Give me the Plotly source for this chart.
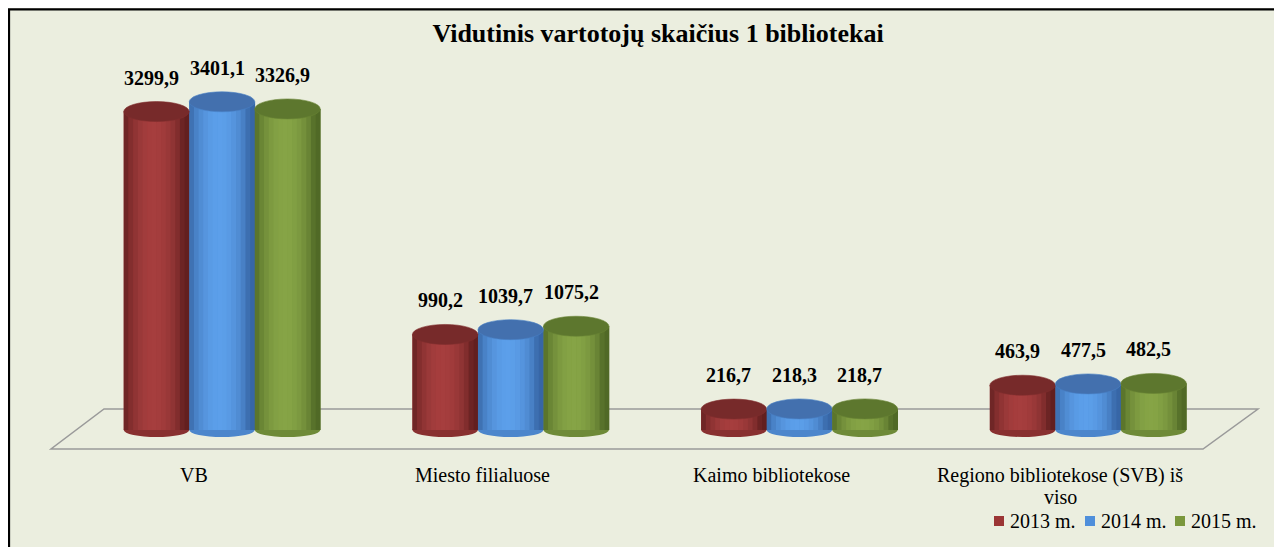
import math
import plotly.graph_objects as go

categories = ["VB", "Miesto filialuose", "Kaimo bibliotekose", "Regiono bibliotekose (SVB) iš<br>viso"]
series_names = ["2013 m.", "2014 m.", "2015 m."]
v2013 = [3299.9, 990.2, 216.7, 463.9]
v2014 = [3401.1, 1039.7, 218.3, 477.5]
v2015 = [3326.9, 1075.2, 218.7, 482.5]
title_text = "Vidutinis vartotojų skaičius 1 bibliotekai"

W, H = 1282, 547
OFF = 8  # page body margin
BG = "#EBEEDF"
FONT = "Liberation Serif"

# colour styles per series: (legend/mid, dark edge, light centre, top cap)
styles = [
    ("#9B3535", "#5A1C1C", "#A63E3E", "#772A2A"),
    ("#4F8FDB", "#33609E", "#5C9FEA", "#4370AE"),
    ("#7A973C", "#4A6222", "#86A446", "#5D772E"),
]
series = [v2013, v2014, v2015]

x = list(range(len(categories)))
bar_w = 0.2269
offsets = [-1.5 * bar_w, -0.5 * bar_w, 0.5 * bar_w]


def PX(px):
    return (px - OFF) / W


def PY(py):
    return 1 - (py - OFF) / H


# pixel -> data scale (page pixels)
px_per_unit_y = 0.0965
y0_px = 430.0 - OFF
y_top = y0_px / px_per_unit_y
y_bot = -(H - y0_px) / px_per_unit_y
px_per_unit_x = 288.7
x_left = -(222.0 - OFF) / px_per_unit_x
x_right = x_left + W / px_per_unit_x

cap_r = 10 / px_per_unit_y
base_r = 7 / px_per_unit_y


def hex2rgb(h):
    h = h.lstrip("#")
    return tuple(int(h[i:i + 2], 16) for i in (0, 2, 4))


def mix(c1, c2, t):
    a, b = hex2rgb(c1), hex2rgb(c2)
    return "rgb(%d,%d,%d)" % tuple(round(a[i] + (b[i] - a[i]) * t) for i in range(3))


fig = go.Figure()

# main bars (one per series)
for s, (vals, name, off) in enumerate(zip(series, series_names, offsets)):
    fig.add_trace(go.Bar(x=x, y=vals, name=name, width=bar_w, offset=off,
                         marker=dict(color=styles[s][0], line=dict(width=0)),
                         hoverinfo="skip", showlegend=False))

# cylinder shading strips
N = 14
for s, (vals, off) in enumerate(zip(series, offsets)):
    mid, dark, light, cap = styles[s]
    for i in range(N):
        t = (i + 0.5) / N
        f = math.sin(math.pi * min(1.0, t / 0.92)) ** 0.6 if t < 0.92 else 0.1
        col = mix(dark, light, max(0.0, min(1.0, f)))
        fig.add_trace(go.Bar(x=x, y=vals, width=bar_w / N * 1.08, offset=off + i * bar_w / N,
                             marker=dict(color=col, line=dict(width=0)),
                             showlegend=False, hoverinfo="skip"))

shapes = []
# floor (parallelogram)
floor = [(PX(104), PY(409)), (PX(1258), PY(409)), (PX(1203), PY(449)), (PX(51), PY(449))]
path = "M %f,%f L %f,%f L %f,%f L %f,%f Z" % tuple(c for pt in floor for c in pt)
shapes.append(dict(type="path", xref="paper", yref="paper", path=path,
                   line=dict(color="#9A9A9A", width=1.5), fillcolor="rgba(0,0,0,0)", layer="below"))

# bottom ellipses and top caps
for s, (vals, off) in enumerate(zip(series, offsets)):
    mid, dark, light, cap = styles[s]
    for xi, v in zip(x, vals):
        shapes.append(dict(type="circle", xref="x", yref="y",
                           x0=xi + off, x1=xi + off + bar_w, y0=-base_r, y1=base_r,
                           fillcolor=mix(dark, light, 0.6), line=dict(width=0), layer="below"))
        shapes.append(dict(type="circle", xref="x", yref="y",
                           x0=xi + off, x1=xi + off + bar_w, y0=v - cap_r, y1=v + cap_r,
                           fillcolor=cap, line=dict(width=0.6, color=mix(dark, light, 0.5)), layer="above"))

# outer frame
shapes.append(dict(type="rect", xref="paper", yref="paper", x0=0.0008, x1=1.2, y0=-0.2, y1=1 - 0.0025,
                   line=dict(color="black", width=2.2), fillcolor="rgba(0,0,0,0)", layer="above"))

annotations = []
# data labels
for s, (vals, off) in enumerate(zip(series, offsets)):
    for xi, v in zip(x, vals):
        annotations.append(dict(x=xi + off + bar_w / 2, y=v, xref="x", yref="y",
                                text="<b>" + ("%.1f" % v).replace(".", ",") + "</b>", showarrow=False,
                                yshift=34, xshift=-5, font=dict(family=FONT, size=20, color="black"),
                                yanchor="middle"))
# category labels (each line placed separately for tight line spacing)
for xi, c in zip(x, categories):
    for li, line in enumerate(c.split("<br>")):
        annotations.append(dict(x=xi, y=PY(475 + 21.5 * li), xref="x", yref="paper", text=line,
                                showarrow=False, xshift=-28, yanchor="middle",
                                font=dict(family=FONT, size=20, color="black")))

# legend (squares + text)
leg_sq_x = [999, 1090, 1180]
for s, name in enumerate(series_names):
    sx = leg_sq_x[s]
    shapes.append(dict(type="rect", xref="paper", yref="paper",
                       x0=PX(sx - 5), x1=PX(sx + 5), y0=PY(526), y1=PY(516),
                       fillcolor=styles[s][0], line=dict(width=0), layer="above"))
    annotations.append(dict(x=PX(sx + 9), y=PY(521), xref="paper", yref="paper", text=name,
                            showarrow=False, xanchor="left", yanchor="middle",
                            font=dict(family=FONT, size=20, color="black")))

fig.update_layout(
    width=W, height=H,
    margin=dict(l=0, r=0, t=0, b=0),
    paper_bgcolor=BG, plot_bgcolor="rgba(0,0,0,0)",
    barmode="overlay",
    showlegend=False,
    title=dict(text="<b>" + title_text + "</b>", x=PX(658), xanchor="center", y=PY(33), yanchor="middle",
               font=dict(family=FONT, size=26, color="black")),
    xaxis=dict(range=[x_left, x_right], visible=False, fixedrange=True),
    yaxis=dict(range=[y_bot, y_top], visible=False, fixedrange=True),
    shapes=shapes,
    annotations=annotations,
)

fig.write_html("out.html")
